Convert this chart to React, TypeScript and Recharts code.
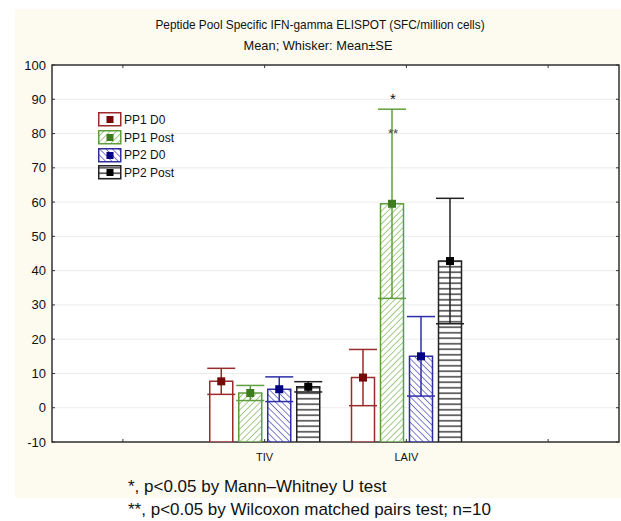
import React from 'react';
import {
  ComposedChart,
  Bar,
  XAxis,
  YAxis,
  CartesianGrid,
  ErrorBar,
  LabelList,
  ReferenceArea,
} from 'recharts';

// categories (outer two are empty slots on the axis)
const groups = ['', 'TIV', 'LAIV', ' '];
const seriesNames = ['PP1 D0', 'PP1 Post', 'PP2 D0', 'PP2 Post'];

// mean SFC/million cells
const pp1D0Mean = [null, 7.7, 8.8, null];
const pp1PostMean = [null, 4.3, 59.5, null];
const pp2D0Mean = [null, 5.4, 15.0, null];
const pp2PostMean = [null, 6.1, 42.8, null];

// standard error (whisker = mean +/- SE)
const pp1D0Se = [null, 3.8, 8.2, null];
const pp1PostSe = [null, 2.2, 27.6, null];
const pp2D0Se = [null, 3.6, 11.6, null];
const pp2PostSe = [null, 1.5, 18.3, null];

// significance marks on PP1 Post (value = text baseline)
const oneStarAt = [null, null, 88.6, null];
const twoStarAt = [null, null, 78.7, null];

const yTicks = [-10, 0, 10, 20, 30, 40, 50, 60, 70, 80, 90, 100];
const AXIS_MIN = -10;
const AXIS_MAX = 100;

const PLOT_TOP = 65;
const PLOT_RIGHT = 619;
const FONT = '"Liberation Sans", Arial, sans-serif';

const styles = [
  { key: 'pp1D0', fill: '#fff', stroke: '#9b2a2a', marker: '#760808', whisker: '#9b2a2a' },
  { key: 'pp1Post', fill: 'url(#hatchGreen)', stroke: '#5f9e3c', marker: '#3d7d1e', whisker: '#5f9e3c' },
  { key: 'pp2D0', fill: 'url(#hatchBlue)', stroke: '#2e2ea0', marker: '#000080', whisker: '#2e2eaa' },
  { key: 'pp2Post', fill: 'url(#linesBlack)', stroke: '#222', marker: '#000', whisker: '#222' },
];

const means = [pp1D0Mean, pp1PostMean, pp2D0Mean, pp2PostMean];
const ses = [pp1D0Se, pp1PostSe, pp2D0Se, pp2PostSe];

const table = groups.map((group, i) => {
  const row: any = { group };
  styles.forEach((s, j) => {
    const m = means[j][i];
    row[s.key] = m == null ? null : [AXIS_MIN, m];
    row[s.key + 'Err'] = ses[j][i];
  });
  return row;
});

// LabelList keyed on "group" so the value tells which category this bar is
const makeMarker = (j: number) => (props: any) => {
  const vb = props.viewBox || props;
  const { x, y, width, height } = vb;
  const idx = groups.indexOf(props.value);
  const mean = idx >= 0 ? means[j][idx] : null;
  if (x == null || y == null || mean == null) return null;
  const cx = x + width / 2;
  const top = Math.min(y, y + height);
  const ppu = Math.abs(height) / (mean - AXIS_MIN);
  const yOf = (v: number) => top - (v - mean) * ppu;
  const s1 = j === 1 ? oneStarAt[idx] : null;
  const s2 = j === 1 ? twoStarAt[idx] : null;
  return (
    <g>
      <rect x={cx - 4} y={top - 4} width={8} height={8} fill={styles[j].marker} />
      {s1 != null && (
        <text x={cx + 1} y={yOf(s1)} fontSize={15} fontFamily={FONT} fill="#111" textAnchor="middle">*</text>
      )}
      {s2 != null && (
        <text x={cx + 1} y={yOf(s2)} fontSize={13} fontFamily={FONT} fill="#444" textAnchor="middle">**</text>
      )}
    </g>
  );
};

const renderYTick = (p: any) => {
  const { x, y, payload } = p;
  return (
    <g>
      <line x1={x} x2={x + 3} y1={y} y2={y} stroke="#333" />
      <line x1={PLOT_RIGHT - 3} x2={PLOT_RIGHT} y1={y} y2={y} stroke="#333" />
      <text x={x - 6} y={y + 4.5} textAnchor="end" fontSize={13} fontFamily={FONT} fill="#111">
        {payload.value}
      </text>
    </g>
  );
};

const renderXTick = (p: any) => {
  const { x, y, payload } = p;
  return (
    <g>
      <line x1={x} x2={x} y1={y} y2={y - 3} stroke="#333" />
      <line x1={x} x2={x} y1={PLOT_TOP} y2={PLOT_TOP + 3} stroke="#333" />
      <text x={x} y={y + 19} textAnchor="middle" fontSize={11} fontFamily={FONT} fill="#111">
        {payload.value}
      </text>
    </g>
  );
};

const Patterns = () => (
  <svg width={0} height={0} style={{ position: 'absolute' }}>
    <defs>
      <pattern id="hatchGreen" patternUnits="userSpaceOnUse" width={4.5} height={4.5} patternTransform="rotate(45)">
        <rect width={4.5} height={4.5} fill="#fff" />
        <line x1={0} y1={0} x2={0} y2={4.5} stroke="#86ba63" strokeWidth={1.5} />
      </pattern>
      <pattern id="hatchBlue" patternUnits="userSpaceOnUse" width={4.5} height={4.5} patternTransform="rotate(-45)">
        <rect width={4.5} height={4.5} fill="#fff" />
        <line x1={0} y1={0} x2={0} y2={4.5} stroke="#3a3ab0" strokeWidth={1.3} />
      </pattern>
      <pattern id="linesBlack" patternUnits="userSpaceOnUse" width={10} height={5.5}>
        <rect width={10} height={5.5} fill="#fff" />
        <line x1={0} y1={2.75} x2={10} y2={2.75} stroke="#222" strokeWidth={1.3} />
      </pattern>
    </defs>
  </svg>
);

const LegendBox = () => (
  <div style={{ position: 'absolute', left: 98, top: 111, fontFamily: FONT, fontSize: 12, color: '#111' }}>
    {seriesNames.map((name, i) => (
      <div key={name} style={{ display: 'flex', alignItems: 'center', height: 17.7 }}>
        <svg width={24} height={15} style={{ display: 'block' }}>
          <rect x={0.75} y={0.75} width={22} height={13} fill={styles[i].fill} stroke={styles[i].stroke} strokeWidth={1.5} />
          <rect x={8.5} y={4} width={7} height={7} fill={styles[i].marker} />
        </svg>
        <span style={{ marginLeft: 2 }}>{name}</span>
      </div>
    ))}
  </div>
);

export default function App() {
  return (
    <div style={{ position: 'absolute', left: 0, top: 0, width: 621, height: 521, background: '#fff' }}>
      <Patterns />
      <div style={{ position: 'absolute', left: 15, top: 9, width: 606, height: 489, background: '#fdfbf0' }} />
      <div
        style={{
          position: 'absolute', left: 320, top: 17, transform: 'translateX(-50%) scaleX(0.91)', whiteSpace: 'nowrap',
          fontFamily: FONT, fontSize: 13, lineHeight: '16px', color: '#111',
        }}
      >
        Peptide Pool Specific IFN-gamma ELISPOT (SFC/million cells)
      </div>
      <div
        style={{
          position: 'absolute', left: 318, top: 38, transform: 'translateX(-50%) scaleX(0.95)', whiteSpace: 'nowrap',
          fontFamily: FONT, fontSize: 13.5, lineHeight: '16px', color: '#111',
        }}
      >
        Mean; Whisker: Mean±SE
      </div>
      <div style={{ position: 'absolute', left: 0, top: 0 }}>
        <ComposedChart
          width={621}
          height={521}
          data={table}
          margin={{ top: 65, right: 2, left: 12, bottom: 49 }}
          barGap={6}
        >
          <CartesianGrid vertical={false} stroke="#ececec" fill="#fff" />
          <XAxis
            dataKey="group"
            axisLine={false}
            tickLine={false}
            tickSize={0}
            tickMargin={0}
            height={30}
            interval={0}
            tick={renderXTick}
          />
          <YAxis
            type="number"
            domain={[AXIS_MIN, AXIS_MAX]}
            ticks={yTicks}
            interval={0}
            width={40}
            axisLine={false}
            tickLine={false}
            tickSize={0}
            tickMargin={0}
            tick={renderYTick}
            allowDataOverflow
          />
          {styles.map((s, j) => (
            <Bar
              key={s.key}
              dataKey={s.key}
              name={seriesNames[j]}
              fill={s.fill}
              stroke={s.stroke}
              strokeWidth={1.5}
              barSize={23}
              isAnimationActive={false}
            >
              <ErrorBar dataKey={s.key + 'Err'} width={14} stroke={s.whisker} strokeWidth={1.5} direction="y" />
              <LabelList dataKey="group" content={makeMarker(j)} />
            </Bar>
          ))}
          <ReferenceArea y1={AXIS_MIN} y2={AXIS_MAX} fill="none" stroke="#333" strokeWidth={1.5} ifOverflow="visible" />
        </ComposedChart>
      </div>
      <LegendBox />
      <div
        style={{
          position: 'absolute', left: 128, top: 475, fontFamily: FONT, fontSize: 17, lineHeight: '23px', color: '#111',
          whiteSpace: 'nowrap',
        }}
      >
        <div>*, p&lt;0.05 by Mann–Whitney U test</div>
        <div>**, p&lt;0.05 by Wilcoxon matched pairs test; n=10</div>
      </div>
    </div>
  );
}
